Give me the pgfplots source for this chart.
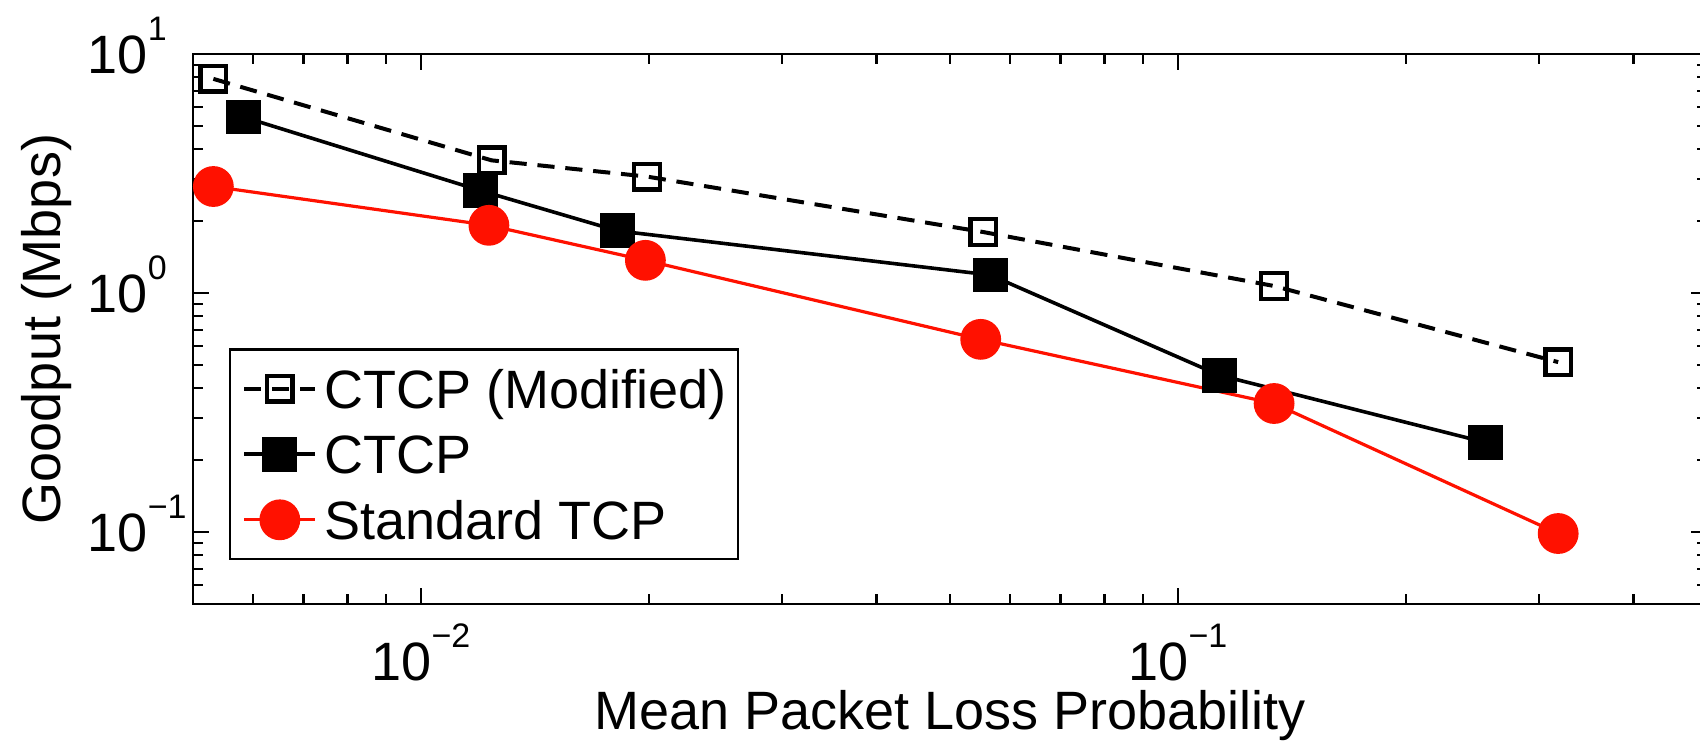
\documentclass[border=0pt]{standalone}
\usepackage{fontspec}
\setmainfont{Liberation Sans}
\usepackage{pgfplots}
\pgfplotsset{compat=1.18}
\definecolor{mred}{RGB}{255,17,0}
\newcommand{\sups}[1]{\raisebox{8.25pt}{\fontsize{8.5pt}{9pt}\selectfont #1}}
\newcommand{\lblfont}{\fontsize{13.5pt}{16pt}\selectfont}

\begin{document}
\begin{tikzpicture}
\begin{axis}[
  xmode=log, ymode=log,
  scale only axis, width=378.5pt, height=137.5pt,
  xmin=0.005, xmax=0.5, ymin=0.05, ymax=10,
  xtick={0.01,0.1}, xticklabels={10\sups{−2},10\sups{−1}},
  ytick={0.1,1,10}, yticklabels={10\sups{−1},10\sups{0},10\sups{1}},
  minor xtick={0.006,0.007,0.008,0.009,0.02,0.03,0.04,0.05,0.06,0.07,0.08,0.09,0.2,0.3,0.4},
  minor ytick={0.06,0.07,0.08,0.09,0.2,0.3,0.4,0.5,0.6,0.7,0.8,0.9,2,3,4,5,6,7,8,9},
  tick align=inside, major tick length=4pt, minor tick length=2.6pt,
  every tick/.style={black, line width=0.6pt},
  axis line style={line width=0.6pt},
  tick label style={font=\lblfont, inner sep=0pt},
  xticklabel style={anchor=base, yshift=-19pt},
  yticklabel style={anchor=base west, xshift=-26.5pt, yshift=-4.83pt},
  xlabel={Mean Packet Loss Probability},
  ylabel={Goodput (Mbps)},
  label style={font=\lblfont, inner sep=0pt},
  xlabel style={at={(axis description cs:0.5,-0.229)}, anchor=base},
  ylabel style={at={(axis description cs:-0.0872,0.5)}, anchor=base},
  legend cell align=left,
  legend style={at={(axis description cs:0.0238,0.08)}, anchor=south west,
    draw=black, line width=0.6pt, fill=white, inner xsep=3pt, inner ysep=1.9pt,
    row sep=0.7pt, font=\lblfont,
    nodes={inner sep=0pt, text height=12.7pt, text depth=3pt}},
  legend image code/.code={
    \draw[#1, mark repeat=2, mark phase=2] plot coordinates {(0pt,0pt) (8.9pt,0pt) (17.75pt,0pt)};
    \path (19.5pt,0pt);
  },
]
\addplot[black, line width=1pt, dash pattern=on 4.3pt off 2.7pt,
  mark=square, mark size=3.2pt, mark options={solid, line width=1.1pt, fill=none}]
  coordinates {(0.00532,7.87) (0.0124,3.59) (0.0199,3.07) (0.0553,1.80) (0.134,1.07) (0.318,0.514)};
\addlegendentry{CTCP (Modified)}
\addplot[black, line width=0.9pt, mark=square*, mark size=3.9pt, mark options={solid, fill=black}]
  coordinates {(0.00583,5.45) (0.0120,2.68) (0.0182,1.82) (0.0565,1.19) (0.1135,0.453) (0.255,0.237)};
\addlegendentry{CTCP}
\addplot[mred, line width=0.8pt, mark=*, mark size=4.7pt, mark options={solid, fill=mred, draw=mred}]
  coordinates {(0.00532,2.79) (0.0123,1.92) (0.0198,1.37) (0.0549,0.64) (0.134,0.345) (0.318,0.0986)};
\addlegendentry{Standard TCP}
\end{axis}
\pgfresetboundingbox
\path[use as bounding box] (current axis.south west) ++(-48.25pt,-34pt) rectangle ++(425pt,185pt);
\end{tikzpicture}
\end{document}
